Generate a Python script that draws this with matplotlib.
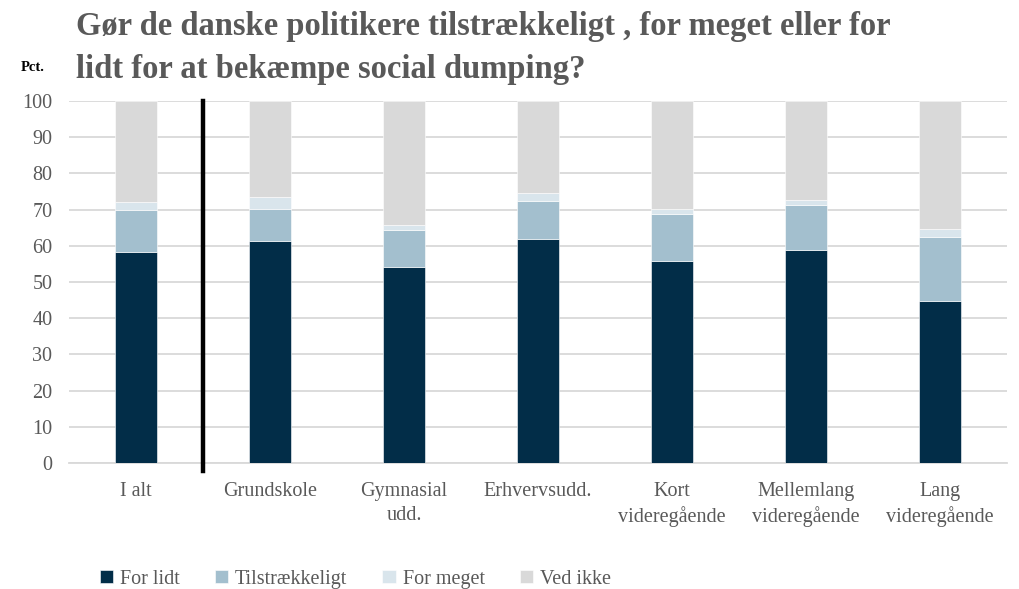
import matplotlib
matplotlib.use("Agg")
import matplotlib.pyplot as plt
import numpy as np

categories = ["I alt", "Grundskole", "Gymnasial\nudd.", "Erhvervsudd.",
              "Kort\nvideregående", "Mellemlang\nvideregående", "Lang\nvideregående"]
for_lidt = [58.4, 61.4, 54.1, 62.0, 55.8, 58.8, 44.8]
tilstraekkeligt = [11.5, 8.9, 10.4, 10.5, 13.1, 12.6, 17.6]
for_meget = [2.1, 3.2, 1.2, 2.1, 1.2, 1.2, 2.2]
ved_ikke = [28.0, 26.5, 34.3, 25.4, 29.9, 27.4, 35.4]
series_names = ["For lidt", "Tilstrækkeligt", "For meget", "Ved ikke"]
colors = ["#022D48", "#A3BFCE", "#D9E5EC", "#D9D9D9"]

plt.rcParams['font.family'] = ['Liberation Serif', 'DejaVu Serif']
grey = "#595959"

fig = plt.figure(figsize=(10.2, 5.89), dpi=100)
ax = fig.add_axes([69 / 1020, 0.214, 938 / 1020, 0.6145])

x = np.arange(len(categories))
bottom = np.zeros(len(categories))
for name, vals, c in zip(series_names, [for_lidt, tilstraekkeligt, for_meget, ved_ikke], colors):
    ax.bar(x, vals, width=0.315, bottom=bottom, color=c, label=name,
           edgecolor="white", linewidth=0.4, zorder=3)
    bottom += np.array(vals)

ax.set_xlim(-0.5, len(categories) - 0.5)
ax.set_ylim(0, 100)
ax.set_yticks(range(0, 101, 10))
ax.yaxis.grid(True, color="#D9D9D9", linewidth=1.3, zorder=0)
ax.set_axisbelow(True)
for s in ["top", "right", "left"]:
    ax.spines[s].set_visible(False)
ax.spines["bottom"].set_color("#D9D9D9")
ax.spines["bottom"].set_linewidth(1.3)
ax.tick_params(axis="y", length=0, labelsize=14.5, colors=grey, pad=12)
ax.tick_params(axis="x", length=0, labelsize=14.5, colors=grey, pad=14)
ax.set_xticks(x)
ax.set_xticklabels(categories, linespacing=1.3)

# vertical separator line
ax.plot([0.5, 0.5], [100, -2.2], color="black", linewidth=3.2, clip_on=False, zorder=5)

fig.text(0.075, 0.982, "Gør de danske politikere tilstrækkeligt , for meget eller for\nlidt for at bekæmpe social dumping?",
         fontsize=23.5, fontweight="bold", color=grey, ha="left", va="top", linespacing=1.5)
fig.text(0.02, 0.885, "Pct.", fontsize=10.5, fontweight="bold", color="black", ha="left", va="center")

handles, labels = ax.get_legend_handles_labels()
leg = fig.legend(handles, labels, loc="lower left", bbox_to_anchor=(0.08, -0.03), ncol=4,
                 frameon=False, fontsize=14.5, handlelength=0.65, handleheight=0.65,
                 handletextpad=0.35, columnspacing=1.75, labelcolor=grey)

fig.savefig("out.png", dpi=100)
